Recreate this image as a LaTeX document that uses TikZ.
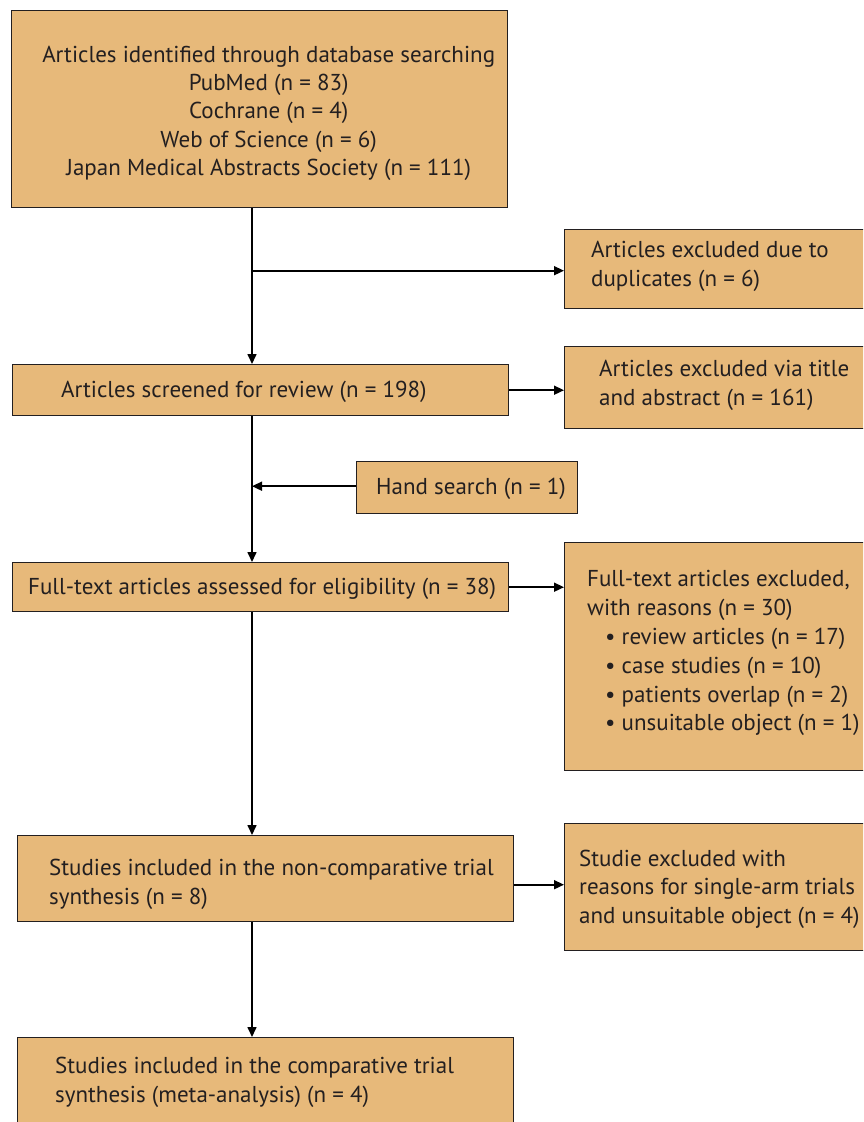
\documentclass[tikz,border=0pt]{standalone}
\usepackage{fontspec}
\setmainfont{PT Sans}
\usetikzlibrary{arrows.meta}
\definecolor{boxfill}{RGB}{231,185,122}
\definecolor{ink}{RGB}{35,31,32}
\tikzset{
  box/.style={draw=ink, line width=1.4pt, fill=boxfill, anchor=north west, inner sep=0pt},
  txt/.style={align=left, inner sep=0pt, text=ink, font=\fontsize{23}{28.8}\selectfont},
  ctxt/.style={align=center, inner sep=0pt, text=ink, font=\fontsize{23}{28.3}\selectfont},
  arr/.style={draw=black, line width=1.6pt, -{Triangle[length=10pt,width=9pt]}}
}
\begin{document}
\begin{tikzpicture}[x=1pt,y=-1pt]
\useasboundingbox (0,0) rectangle (863,1122);
\clip (0,0) rectangle (863,1122);
\fill[white] (0,0) rectangle (863,1122);

\coordinate (spine) at (252,0);

% boxes
\node[box, minimum width=496pt, minimum height=197pt] (b1) at (11,10) {};
\node[box, minimum width=330pt, minimum height=79pt] (b2) at (564,229) {};
\node[box, minimum width=496pt, minimum height=51pt] (b3) at (12,364) {};
\node[box, minimum width=330pt, minimum height=82pt] (b4) at (564,346) {};
\node[box, minimum width=221pt, minimum height=52pt] (b5) at (356,461) {};
\node[box, minimum width=496pt, minimum height=49pt] (b6) at (12,562) {};
\node[box, minimum width=330pt, minimum height=228pt] (b7) at (564,542) {};
\node[box, minimum width=496pt, minimum height=86pt] (b8) at (17,835) {};
\node[box, minimum width=330pt, minimum height=127pt] (b9) at (564,823) {};
\node[box, minimum width=496pt, minimum height=92pt] (b10) at (17,1037) {};

% texts
\node[ctxt] (t1) at ([xshift=9pt,yshift=-4pt]b1.center) {Articles identified through database searching\\PubMed (n = 83)\\Cochrane (n = 4)\\Web of Science (n = 6)\\Japan Medical Abstracts Society (n = 111)};
\node[txt, anchor=west] (t2) at ([xshift=27pt,yshift=3pt]b2.west) {Articles excluded due to\\duplicates (n = 6)};
\node[txt, anchor=west] (t3) at ([xshift=49pt,yshift=-2pt]b3.west) {Articles screened for review (n = 198)};
\node[txt, anchor=west] (t4) at ([xshift=35pt,yshift=2.5pt]b4.west) {Articles excluded via title\\and abstract (n = 161)};
\node[txt, anchor=west] (t5) at ([xshift=20pt,yshift=-1pt]b5.west) {Hand search (n = 1)};
\node[txt, anchor=west] (t6) at ([xshift=16pt,yshift=-2pt]b6.west) {Full-text articles assessed for eligibility (n = 38)};
\node[txt, anchor=west] (t7) at ([xshift=23pt,yshift=3.5pt]b7.west) {Full-text articles excluded,\\with reasons (n = 30)\\\hspace*{18pt}• review articles (n = 17)\\\hspace*{18pt}• case studies (n = 10)\\\hspace*{18pt}• patients overlap (n = 2)\\\hspace*{18pt}• unsuitable object (n = 1)};
\node[txt, anchor=west] (t8) at ([xshift=32pt,yshift=-6pt]b8.west) {Studies included in the non-comparative trial\\synthesis (n = 8)};
\node[txt, anchor=west] (t9) at ([xshift=15pt,yshift=-2pt]b9.west) {Studie excluded with\\reasons for single-arm trials\\and unsuitable object (n = 4)};
\node[txt, anchor=west] (t10) at ([xshift=38pt,yshift=1.5pt]b10.west) {Studies included in the comparative trial\\synthesis (meta-analysis) (n = 4)};

% connectors
\draw[arr] (b1.south -| spine) -- (b3.north -| spine);
\draw[arr] ([yshift=-1.5pt]b2.west -| spine) -- ([yshift=-1.5pt]b2.west);
\draw[arr] (b3.east) -- (b3.east -| b4.west);
\draw[arr] (b3.south -| spine) -- (b6.north -| spine);
\draw[arr] ([yshift=1.5pt]b5.west) -- ([yshift=1.5pt]b5.west -| spine);
\draw[arr] (b6.east) -- (b6.east -| b7.west);
\draw[arr] (b6.south -| spine) -- (b8.north -| spine);
\draw[arr] ([yshift=-6pt]b8.east) -- ([yshift=-6pt]b8.east -| b9.west);
\draw[arr] (b8.south -| spine) -- (b10.north -| spine);
\end{tikzpicture}
\end{document}
